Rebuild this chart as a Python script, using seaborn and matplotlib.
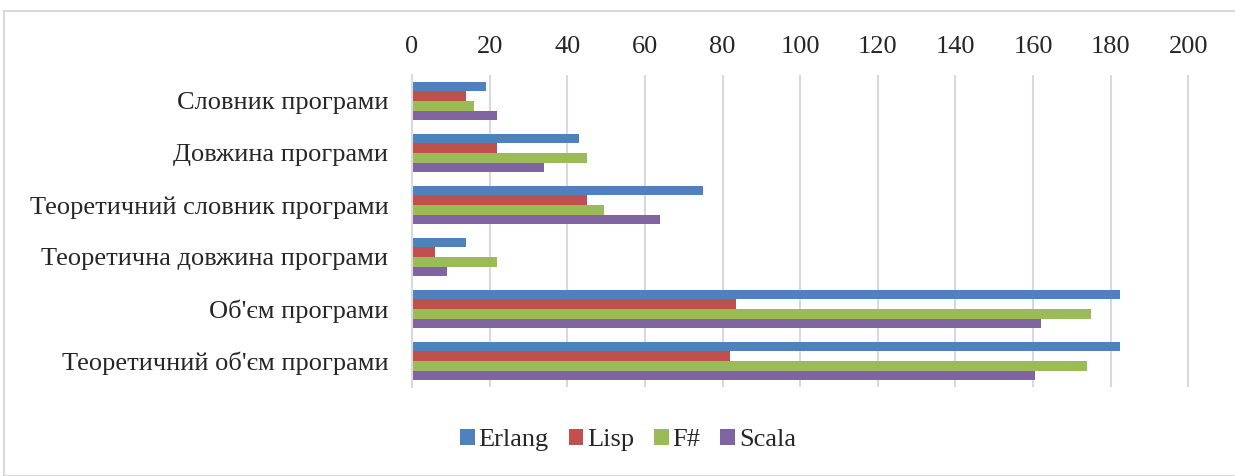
import pandas as pd
import matplotlib.pyplot as plt
import seaborn as sns
from matplotlib.patches import Rectangle

# Metric categories (top to bottom) and values per language
categories = [
    "Словник програми",
    "Довжина програми",
    "Теоретичний словник програми",
    "Теоретична довжина програми",
    "Об'єм програми",
    "Теоретичний об'єм програми",
]
erlang = [19, 43, 75, 14, 182.5, 182.5]
lisp = [14, 22, 45, 6, 83.5, 82]
fsharp = [16, 45, 49.5, 22, 175, 174]
scala = [22, 34, 64, 9, 162, 160.5]

languages = ["Erlang", "Lisp", "F#", "Scala"]
colors = ["#4F81BD", "#C0504D", "#9BBB59", "#8064A2"]
ticks = list(range(0, 201, 20))

# Long-form table for seaborn
rows = []
for lang, vals in zip(languages, [erlang, lisp, fsharp, scala]):
    for cat, v in zip(categories, vals):
        rows.append({"category": cat, "language": lang, "value": v})
df = pd.DataFrame(rows)

sns.set_style("white")
plt.rcParams["font.family"] = ["Liberation Serif", "DejaVu Serif"]

fig = plt.figure(figsize=(12.35, 4.76), dpi=100)
ax = fig.add_axes([412 / 1235, 1 - 387 / 476, (1200 - 412) / 1235, 312 / 476])

sns.barplot(data=df, y="category", x="value", hue="language", order=categories,
            hue_order=languages, palette=colors, orient="h", width=0.74,
            saturation=1, linewidth=0, ax=ax, legend=True)

ax.set_xlim(0, 203)
ax.set_xticks(ticks)
ax.xaxis.tick_top()
ax.tick_params(axis="x", length=0, labelsize=19, pad=12)
ax.tick_params(axis="y", length=0, labelsize=19, pad=17)
ax.set_xlabel("")
ax.set_ylabel("")
ax.grid(axis="x", color="#D9D9D9", linewidth=1.5)
ax.set_axisbelow(True)
for side in ["top", "right", "bottom"]:
    ax.spines[side].set_visible(False)
ax.spines["left"].set_color("#D9D9D9")
ax.spines["left"].set_linewidth(1.5)

handles, labels = ax.get_legend_handles_labels()
ax.get_legend().remove()
fig.legend(handles, labels, loc="center", bbox_to_anchor=(628 / 1235, 1 - 440 / 476),
           ncol=4, frameon=False, fontsize=19, handlelength=0.55, handleheight=0.55,
           handletextpad=0.15, columnspacing=0.75)

# Light outer frame around the chart
fig.patches.append(Rectangle((4 / 1235, 0), 1, 1 - 11 / 476,
                             transform=fig.transFigure, fill=False,
                             edgecolor="#D9D9D9", linewidth=1.5))

fig.savefig("out.png", dpi=100)
